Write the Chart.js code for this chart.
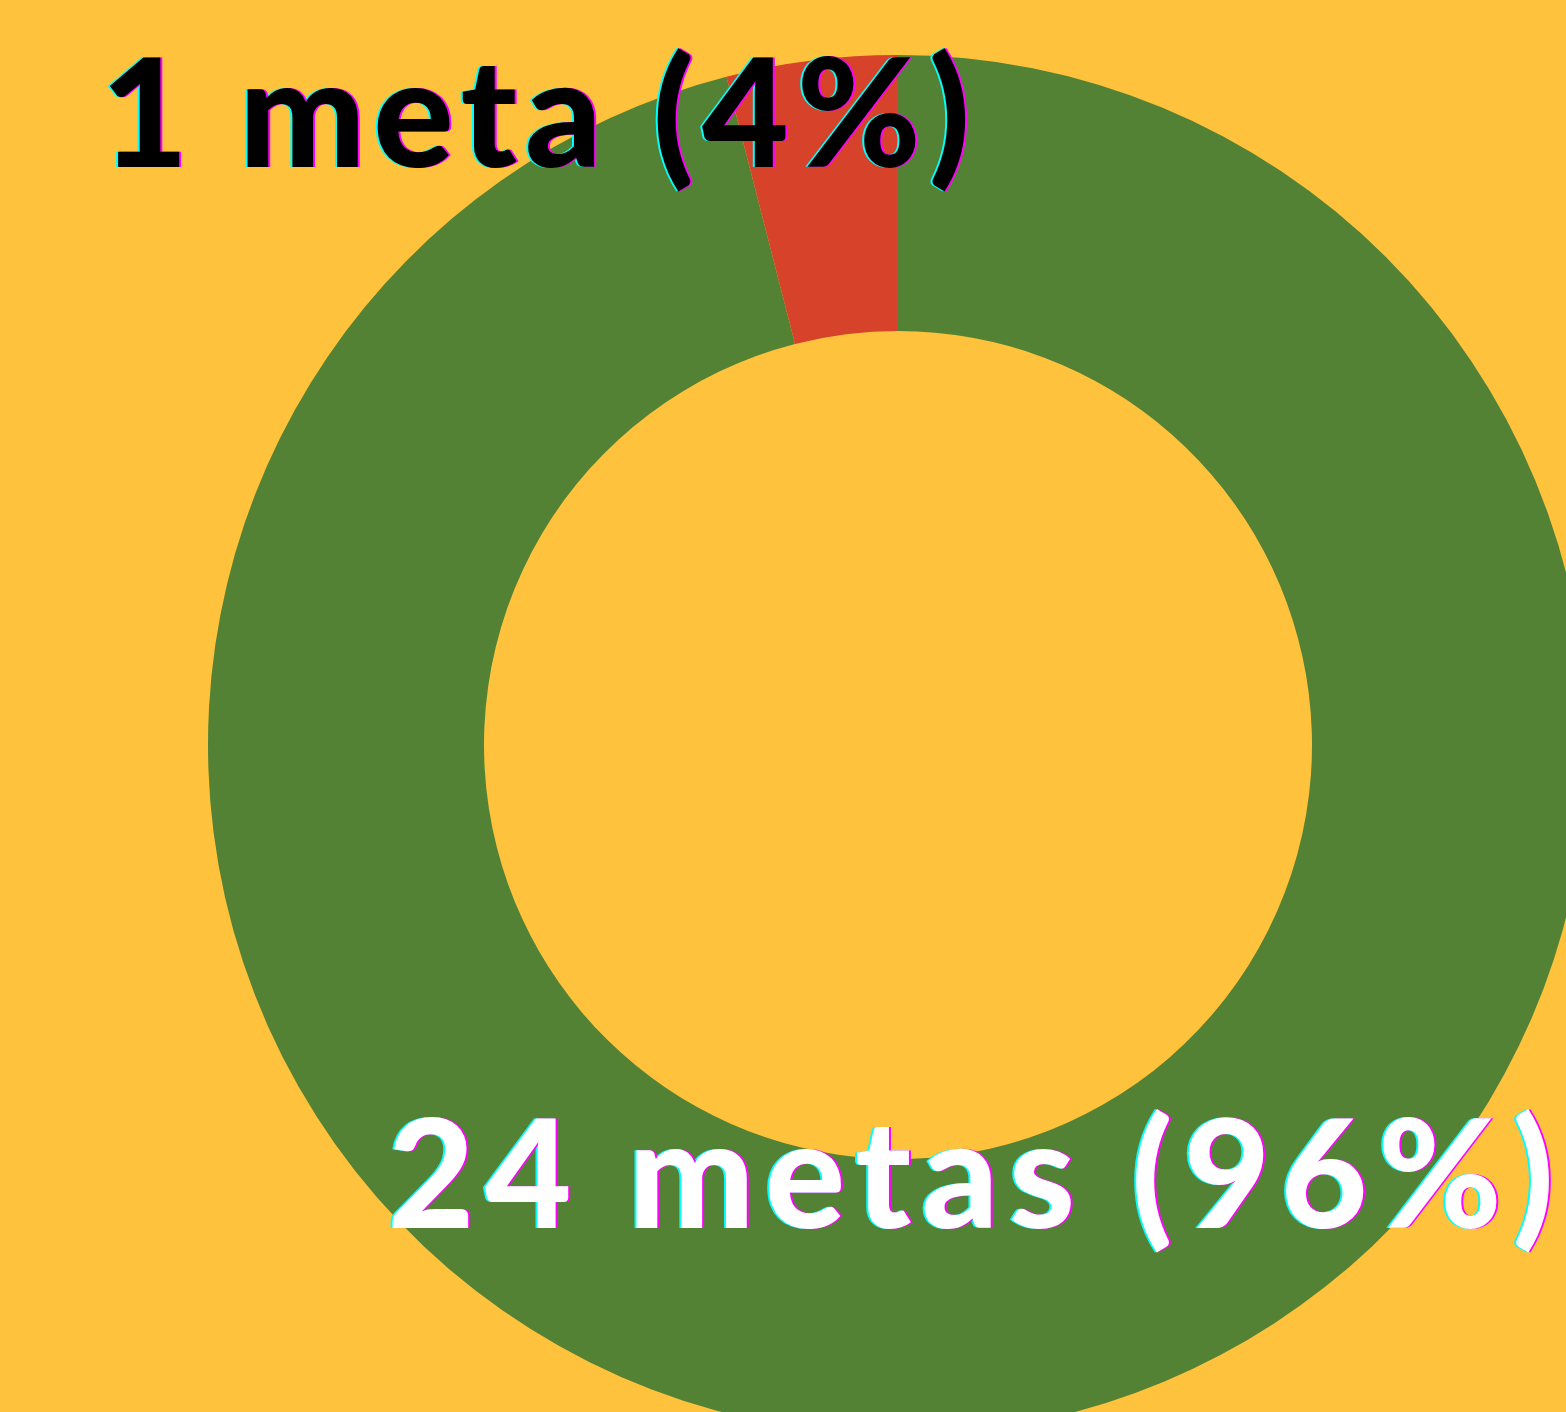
<!DOCTYPE html>
<html>
<head>
<meta charset="utf-8">
<script src="https://cdn.jsdelivr.net/npm/chart.js@4.4.1/dist/chart.umd.min.js"></script>
<style>
  html, body { margin: 0; padding: 0; overflow: hidden; background: #FFC23C; }
  #wrap { position: absolute; left: 0; top: 0; width: 1796px; height: 1490px; }
</style>
</head>
<body>
<div id="wrap"><canvas id="chart_metas" width="1796" height="1490"></canvas></div>
<script>
// data
var categories = ['Metas cumplidas', 'Metas no cumplidas'];
var metaCounts = [24, 1];
var metaColors = ['#548235', '#D6422A'];
var labelTexts = ['24 metas (96%)', '1 meta (4%)'];
var labelColors = ['#FFFFFF', '#000000'];

// label anchor relative to chart center, in units of outer radius
// (w = wanted text width, also in outer radius units)
var labelAnchors = [
    { dx: -0.740, dy: 0.700, w: 1.690 },
    { dx: -1.155, dy: -0.837, w: 1.260 }
];

var glitchLabels = {
    id: 'glitchLabels',
    afterDraw: function(chart) {
        var ctx = chart.ctx;
        var meta = chart.getDatasetMeta(0);
        ctx.save();
        ctx.font = '900 150px Lato, "Noto Sans", sans-serif';
        ctx.textBaseline = 'alphabetic';
        ctx.textAlign = 'left';
        meta.data.forEach(function(arc, i) {
            var r = arc.outerRadius;
            var a = labelAnchors[i];
            var x = arc.x + a.dx * r;
            var y = arc.y + a.dy * r;
            var t = labelTexts[i];
            ctx.letterSpacing = '0px';
            var natural = ctx.measureText(t).width;
            var sp = (a.w * r - natural) / (t.length - 1);
            ctx.letterSpacing = sp.toFixed(1) + 'px';
            ctx.fillStyle = '#00FFFF';
            ctx.fillText(t, x - 2, y);
            ctx.fillStyle = '#FF00FF';
            ctx.fillText(t, x + 2, y);
            ctx.fillStyle = labelColors[i];
            ctx.fillText(t, x, y);
        });
        ctx.restore();
    }
};

var chart_metas = new Chart(document.getElementById('chart_metas'), {
    type: 'doughnut',
    data: {
        labels: categories,
        datasets: [{
            data: metaCounts,
            backgroundColor: metaColors,
            borderWidth: 0
        }]
    },
    options: {
        animation: false,
        responsive: false,
        cutout: '60%',
        layout: { padding: { top: 55, bottom: 55, left: 0, right: 0 } },
        plugins: {
            legend: { display: false },
            tooltip: { enabled: false }
        }
    },
    plugins: [glitchLabels]
});
</script>
</body>
</html>
